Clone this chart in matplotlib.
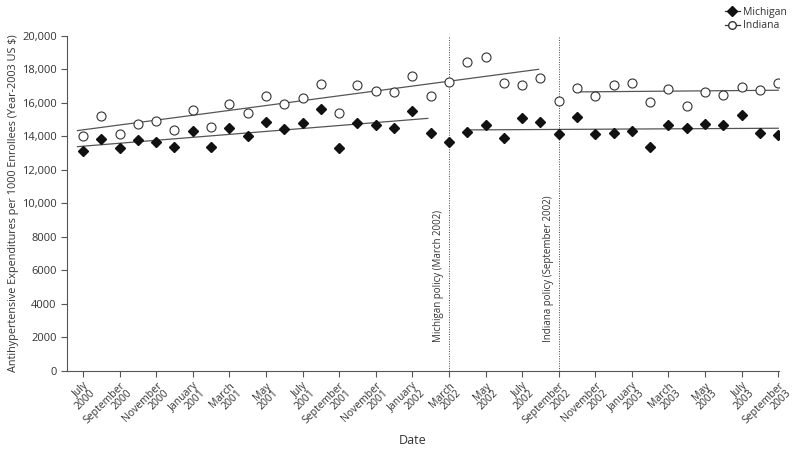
import matplotlib
matplotlib.use("Agg")
import matplotlib.pyplot as plt
from matplotlib.lines import Line2D

plt.rcParams['font.family'] = ['Open Sans', 'DejaVu Sans']

# monthly values, July 2000 (index 0) to September 2003 (index 38)
michigan = [13150, 13850, 13300, 13770, 13690, 13370, 14330, 13370, 14530, 14030,
            14870, 14450, 14830, 15620, 13330, 14830, 14670, 14510, 15500, 14210,
            13650, 14290, 14690, 13910, 15100, 14850, 14170, 15140, 14150, 14210,
            14350, 13350, 14670, 14510, 14750, 14710, 15300, 14210, 14070]
indiana = [14050, 15210, 14130, 14750, 14950, 14410, 15560, 14590, 15920, 15400,
           16400, 15920, 16280, 17150, 15400, 17080, 16700, 16680, 17590, 16440,
           17250, 18430, 18730, 17190, 17080, 17490, 16120, 16900, 16400, 17080,
           17170, 16080, 16820, 15840, 16680, 16480, 16960, 16760, 17210]

# trend segments: (start month, end month, start value, end value)
mich_trends = [(-0.3, 18.85, 13390, 15080), (21, 38, 14390, 14490)]
ind_trends = [(-0.3, 24.9, 14350, 18010), (27, 38, 16660, 16760)]

policies = [(20, "Michigan policy (March 2002)"), (26, "Indiana policy (September 2002)")]

tick_labels = ["July\n2000", "September\n2000", "November\n2000", "January\n2001",
               "March\n2001", "May\n2001", "July\n2001", "September\n2001",
               "November\n2001", "January\n2002", "March\n2002", "May\n2002",
               "July\n2002", "September\n2002", "November\n2002", "January\n2003",
               "March\n2003", "May\n2003", "July\n2003", "September\n2003"]

months = list(range(len(michigan)))
txt = "#333333"

fig = plt.figure(figsize=(8, 4.5), dpi=100)
ax = fig.add_axes([0.084, 0.176, 0.89, 0.744])

for x0, x1, y0, y1 in mich_trends:
    ax.plot([x0, x1], [y0, y1], color="#555555", lw=0.9, zorder=1)
for x0, x1, y0, y1 in ind_trends:
    ax.plot([x0, x1], [y0, y1], color="#555555", lw=0.9, zorder=1)

ax.plot(months, michigan, linestyle="none", marker="D", ms=5.3, color="#111111", zorder=3)
ax.plot(months, indiana, linestyle="none", marker="o", ms=6.5, mfc="white",
        mec="#333333", mew=0.8, zorder=3)

for m, label in policies:
    ax.axvline(m, color="#444444", lw=0.7, linestyle=(0, (1, 1.5)), zorder=0)
    ax.text(m - 0.55, 1700, label, rotation=90, ha="center", va="bottom",
            fontsize=7, color=txt)

ax.set_xlim(-0.86, 38.05)
ax.set_ylim(0, 20000)
ax.set_yticks(range(0, 20001, 2000))
ax.set_yticklabels([f"{v:,}" if v >= 10000 else str(v) for v in range(0, 20001, 2000)],
                   fontsize=8, color=txt)
ax.set_xticks(range(0, 39, 2))
ax.set_xticklabels(tick_labels, rotation=45, ha="right", va="top",
                   rotation_mode="anchor", fontsize=7.5, color=txt, linespacing=0.85)
ax.tick_params(axis="both", length=4, width=0.8, color="#555555")
ax.tick_params(axis="x", pad=3)

for s in ["top", "right"]:
    ax.spines[s].set_visible(False)
for s in ["left", "bottom"]:
    ax.spines[s].set_color("#555555")
    ax.spines[s].set_linewidth(0.8)

ax.set_xlabel("Date", fontsize=9, color=txt)
ax.xaxis.set_label_coords(0.485, -0.19)
ax.set_ylabel("Antihypertensive Expenditures per 1000 Enrollees (Year-2003 US $)",
              fontsize=7.8, color=txt)
ax.yaxis.set_label_coords(-0.068, 0.5)

handles = [Line2D([], [], color="#333333", lw=0.9, marker="D", ms=5, mfc="#111111", mec="#111111"),
           Line2D([], [], color="#333333", lw=0.9, marker="o", ms=5.5, mfc="white", mec="#333333")]
fig.legend(handles, ["Michigan", "Indiana"], loc="upper right", bbox_to_anchor=(0.995, 1.005),
           frameon=False, fontsize=7.5, handlelength=1.4, handletextpad=0.3,
           labelspacing=0.2, labelcolor=txt)

fig.savefig("out.png", dpi=100)
